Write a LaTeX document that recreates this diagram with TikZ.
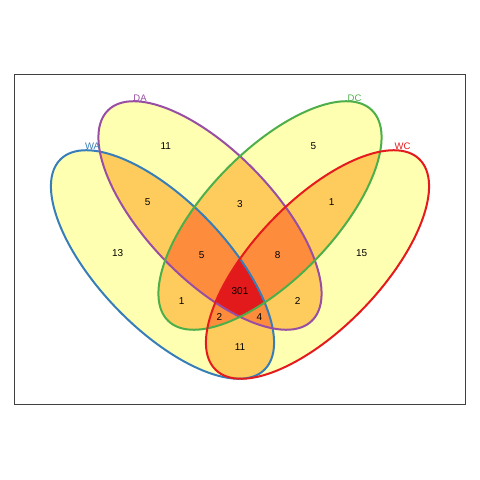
\documentclass[tikz,border=0pt]{standalone}
\usepackage{fontspec}
\setmainfont{Liberation Sans}
\usepackage{tikz}

\definecolor{setblue}{HTML}{377EB8}
\definecolor{setpurple}{HTML}{984EA3}
\definecolor{setgreen}{HTML}{4DAF4A}
\definecolor{setred}{HTML}{E41A1C}
\definecolor{oneset}{HTML}{FFFFB2}
\definecolor{twosets}{HTML}{FECC5C}
\definecolor{threesets}{HTML}{FD8D3C}
\definecolor{foursets}{HTML}{E31A1C}

% the four ellipses (1pt = 1px)
\newcommand{\ellWA}{[rotate around={-46:(162.5,215.5)}] (162.5,215.5) ellipse (146.5 and 63.5)}
\newcommand{\ellDA}{[rotate around={-46:(210,264.5)}] (210,264.5) ellipse (146.5 and 63.5)}
\newcommand{\ellDC}{[rotate around={46:(270,264.5)}] (270,264.5) ellipse (146.5 and 63.5)}
\newcommand{\ellWC}{[rotate around={46:(317.5,215.5)}] (317.5,215.5) ellipse (146.5 and 63.5)}

\begin{document}
\begin{tikzpicture}[x=1pt, y=1pt,
    outline/.style={line width=2pt},
    setname/.style={font=\fontsize{9.5}{11}\selectfont, inner sep=0pt},
    count/.style={font=\fontsize{10}{12}\selectfont, inner sep=0pt}]
    \useasboundingbox (0,0) rectangle (480,480);

    % Box
    \draw[black!75, line width=0.8pt] (14,75.5) rectangle (465.5,405.5);

    % One set
    \fill[oneset] \ellWA;
    \fill[oneset] \ellDA;
    \fill[oneset] \ellDC;
    \fill[oneset] \ellWC;

    % Two sets
    \begin{scope}\clip \ellWA; \fill[twosets] \ellDA; \fill[twosets] \ellDC; \fill[twosets] \ellWC; \end{scope}
    \begin{scope}\clip \ellDA; \fill[twosets] \ellDC; \fill[twosets] \ellWC; \end{scope}
    \begin{scope}\clip \ellDC; \fill[twosets] \ellWC; \end{scope}

    % Three sets
    \begin{scope}\clip \ellWA; \clip \ellDA; \fill[threesets] \ellDC; \fill[threesets] \ellWC; \end{scope}
    \begin{scope}\clip \ellWA; \clip \ellDC; \fill[threesets] \ellWC; \end{scope}
    \begin{scope}\clip \ellDA; \clip \ellDC; \fill[threesets] \ellWC; \end{scope}

    % Four sets
    \begin{scope}\clip \ellWA; \clip \ellDA; \clip \ellDC; \fill[foursets] \ellWC; \end{scope}

    % Outlines
    \draw[outline, setblue] \ellWA;
    \draw[outline, setpurple] \ellDA;
    \draw[outline, setgreen] \ellDC;
    \draw[outline, setred] \ellWC;

    % Set names
    \node[setname, text=setblue] (nameWA) at (92.5,333.5) {WA};
    \node[setname, text=setpurple] (nameDA) at (140,381.5) {DA};
    \node[setname, text=setgreen] (nameDC) at (354.5,381.5) {DC};
    \node[setname, text=setred] (nameWC) at (402.5,333.5) {WC};

    % Counts
    \foreach \x/\y/\n [count=\k] in {165.7/334/11, 313.3/334/5, 147.7/278.3/5, 240/276/3,
        331.7/277.7/1, 117.7/227.3/13, 201.7/225/5, 277.7/225/8, 361.7/227.3/15,
        240/189/301, 181.7/179.3/1, 297.7/179.3/2, 219.3/162.7/2, 259.3/162.7/4, 240/132.7/11}
        \node[count] (c\k) at (\x,\y) {\n};
\end{tikzpicture}
\end{document}
